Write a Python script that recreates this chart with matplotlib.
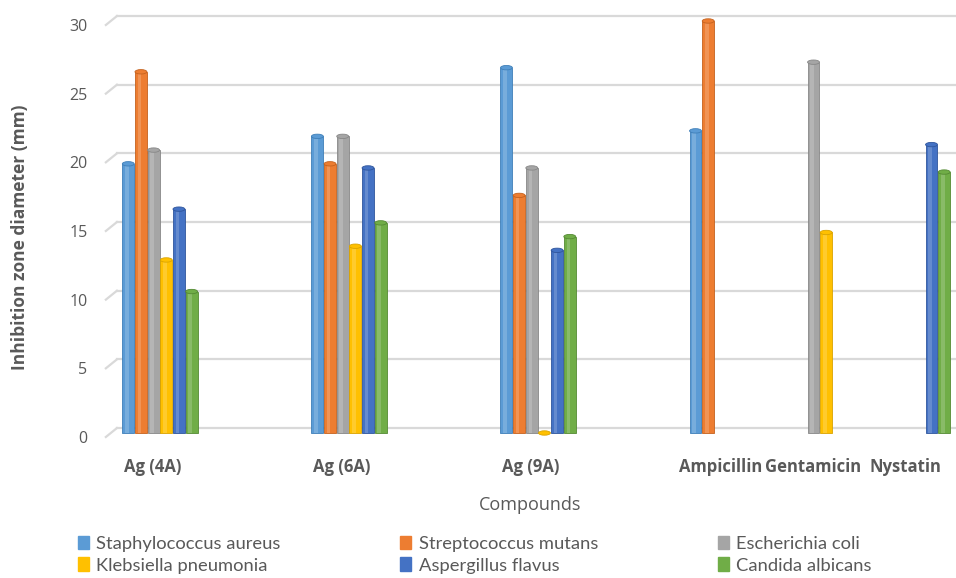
import matplotlib
matplotlib.use("Agg")
import matplotlib.pyplot as plt
import matplotlib.transforms as mtransforms
from matplotlib.patches import Ellipse, Rectangle
import numpy as np

# data (mm); nan = not tested
compounds = ["Ag (4A)", "Ag (6A)", "Ag (9A)", "Ampicillin", "Gentamicin", "Nystatin"]
series_names = ["Staphylococcus aureus", "Streptococcus mutans", "Escherichia coli",
                "Klebsiella pneumonia", "Aspergillus flavus", "Candida albicans"]
nan = np.nan
staph = [19.6, 21.6, 26.6, 22.0, nan, nan]
strep = [26.3, 19.6, 17.3, 30.0, nan, nan]
ecoli = [20.6, 21.6, 19.3, nan, 27.0, nan]
kleb = [12.6, 13.6, 0.0, nan, 14.6, nan]
asper = [16.3, 19.3, 13.3, nan, nan, 21.0]
candida = [10.3, 15.3, 14.3, nan, nan, 19.0]
yticks = [0, 5, 10, 15, 20, 25, 30]

colors = ["#5B9BD5", "#ED7D31", "#A5A5A5", "#FFC000", "#4472C4", "#70AD47"]
edges = ["#3F7FB8", "#C4621E", "#878787", "#D9A300", "#2F559C", "#548A33"]
gray = "#595959"

# layout of the category slots (the three reference drugs sit closer together)
cat_pos = [0, 1, 2, 3, 3.49, 3.98]
slot = 0.067
bar_w = 0.063

fig = plt.figure(figsize=(9.56, 5.78), dpi=100)
ax = fig.add_axes([100 / 956, 1 - 445 / 578, 856 / 956, 435 / 578])
ax.set_xlim(-0.317, 4.21)
ax.set_ylim(-0.874, 30.8)
for s in ax.spines.values():
    s.set_visible(False)

# gridlines drawn on the back wall with a short slanted piece at the left
for v in yticks:
    ax.plot([-0.2275, 4.21], [v + 0.36, v + 0.36], color="#D9D9D9", lw=1.6, zorder=0)
    ax.plot([-0.286, -0.2275], [v - 0.29, v + 0.36], color="#D9D9D9", lw=1.6, zorder=0)

all_series = [staph, strep, ecoli, kleb, asper, candida]
handles = []
for k, vals in enumerate(all_series):
    for i, v in enumerate(vals):
        if np.isnan(v):
            continue
        x = cat_pos[i] + (k - 2.5) * slot
        if v > 0:
            ax.bar(x, v, width=bar_w, color=colors[k], edgecolor=edges[k], lw=0.6, zorder=2)
            # highlight strip to give a rounded look
            ax.bar(x - bar_w * 0.12, v, width=bar_w * 0.3, color="white", alpha=0.18,
                   lw=0, zorder=3)
        ax.add_patch(Ellipse((x, v), bar_w, 0.32, facecolor=colors[k],
                             edgecolor=edges[k], lw=0.6, zorder=4))
    handles.append(Rectangle((0, 0), 1, 1, color=colors[k]))

# y tick labels, aligned with the front edge
ax.set_yticks(yticks)
ax.set_yticklabels([str(t) for t in yticks], fontsize=11.5, color=gray, family="Open Sans")
ax.tick_params(axis="y", length=0, pad=9)
shift = mtransforms.ScaledTranslation(0, -4 / 100, fig.dpi_scale_trans)
for lab in ax.get_yticklabels():
    lab.set_transform(lab.get_transform() + shift)

ax.set_xticks(cat_pos)
ax.set_xticklabels(compounds, fontsize=12, fontweight="bold", color=gray, family="Open Sans")
ax.tick_params(axis="x", length=0, pad=9)
shift_x = mtransforms.ScaledTranslation(-7 / 100, 0, fig.dpi_scale_trans)
for lab in ax.get_xticklabels():
    lab.set_transform(lab.get_transform() + shift_x)

fig.text(530 / 956, 1 - 505 / 578, "Compounds", ha="center", va="center",
         fontsize=13, color=gray, family="Open Sans")
fig.text(20 / 956, 1 - 237 / 578, "Inhibition zone diameter (mm)", ha="center", va="center",
         rotation=90, fontsize=12.5, fontweight="bold", color=gray, family="Open Sans")

order = [0, 3, 1, 4, 2, 5]
leg = fig.legend([handles[j] for j in order], [series_names[j] for j in order],
                 ncol=3, loc="upper left", bbox_to_anchor=(61 / 956, 1 - 519 / 578),
                 frameon=False, handlelength=0.6, handleheight=0.75, handletextpad=0.4,
                 columnspacing=6.55, labelspacing=0.32,
                 prop={"family": "Lato", "size": 13.2})
for t in leg.get_texts():
    t.set_color(gray)

fig.savefig("out.png", dpi=100)
